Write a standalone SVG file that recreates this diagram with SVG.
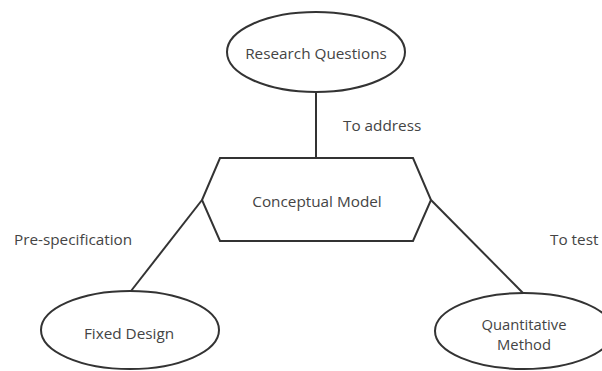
<svg xmlns="http://www.w3.org/2000/svg" width="602" height="371" viewBox="0 0 602 371">
<style>
.shape{fill:#fff;stroke:#333;stroke-width:2}
.conn{fill:none;stroke:#333;stroke-width:2}
text{font-family:"Open Sans","Noto Sans",sans-serif;font-size:15.3px;fill:#444}
.c{text-anchor:middle}
.s{font-size:14.8px}
</style>
<rect width="602" height="371" fill="#fff"/>
<g id="connectors">
<line class="conn" x1="316" y1="92" x2="316" y2="158"/>
<line class="conn" x1="202" y1="200" x2="131" y2="291"/>
<line class="conn" x1="431" y1="200" x2="523" y2="293"/>
<text x="343" y="131">To address</text>
<text x="14" y="245">Pre-specification</text>
<text x="550" y="245">To test</text>
</g>
<g id="research-questions">
<ellipse class="shape" cx="316" cy="52" rx="89" ry="40"/>
<text class="c" x="316" y="59">Research Questions</text>
</g>
<g id="conceptual-model">
<polygon class="shape" points="220,158 413,158 431,200 413,241 220,241 202,200"/>
<text class="c" x="317" y="207">Conceptual Model</text>
</g>
<g id="fixed-design">
<ellipse class="shape" cx="130" cy="330" rx="89" ry="39"/>
<text class="c" x="129" y="339">Fixed Design</text>
</g>
<g id="quantitative-method">
<ellipse class="shape" cx="524" cy="331" rx="89" ry="38"/>
<text class="c s" x="524" y="330">Quantitative</text>
<text class="c s" x="524" y="350">Method</text>
</g>
</svg>
